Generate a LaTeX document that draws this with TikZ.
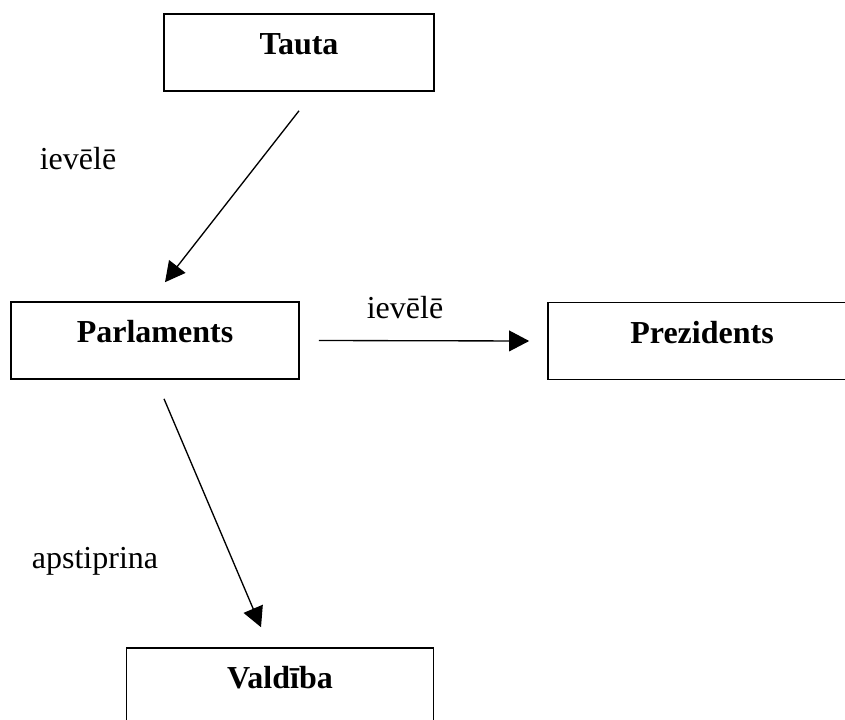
\documentclass[tikz,border=0pt]{standalone}
\usepackage{fontspec}
\setmainfont{Liberation Serif}
\usetikzlibrary{arrows.meta}
\tikzset{
  box/.style={draw,line width=1.2pt,inner sep=0pt,minimum height=57.75pt,
    text height=30.5pt,text depth=27.25pt,font=\fontsize{24}{28}\selectfont\bfseries},
  arrow/.style={line width=1pt,-{Triangle[length=15pt,width=15.5pt]}},
  lbl/.style={anchor=base,inner sep=0pt,font=\fontsize{24}{28}\selectfont}
}
\begin{document}
\begin{tikzpicture}[x=0.75pt,y=-0.75pt]
\useasboundingbox (0,0) rectangle (845,720);
\clip (0,0) rectangle (845,720);
\node[box,minimum width=202.5pt] (tauta) at (299,52.5) {Tauta};
\node[box,minimum width=216pt] (parl) at (155,340.5) {Parlaments};
\node[box,minimum width=231pt] (prez) at (702,341) {Prezidents};
\node[box,minimum width=230.25pt] (vald) at (280,686.5) {Valdība};
\node[lbl] (l1) at (78,170) {ievēlē};
\node[lbl] (l2) at (405,318) {ievēlē};
\node[lbl] (l3) at (95,568) {apstiprina};
\draw[arrow] ([shift={(0,19)}]tauta.south) -- ([shift={(10,-19)}]parl.north);
\draw[arrow] ([shift={(19,0)}]parl.east) -- ([shift={(-18,0)}]prez.west);
\draw[arrow] ([shift={(9,19)}]parl.south) -- ([shift={(-19,-20)}]vald.north);
\end{tikzpicture}
\end{document}
